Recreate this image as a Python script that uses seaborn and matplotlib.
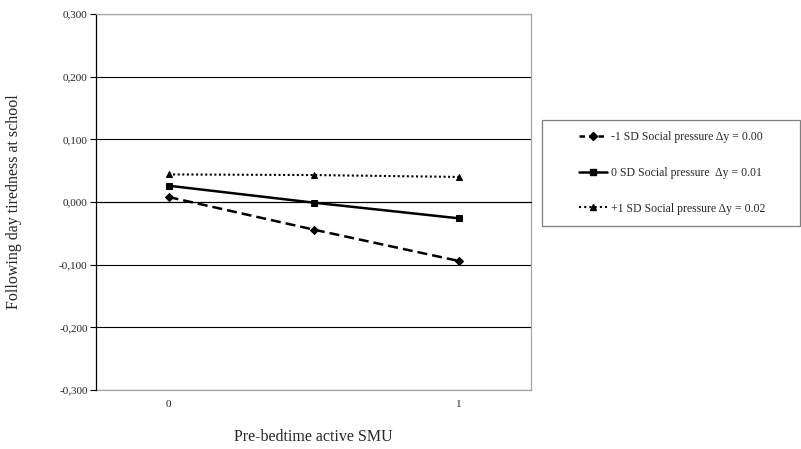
import pandas as pd
import numpy as np
import matplotlib.pyplot as plt
import seaborn as sns
from matplotlib.patches import Rectangle
from matplotlib.lines import Line2D

sns.set_style('white')
plt.rcParams['font.family'] = ['Liberation Serif', 'DejaVu Serif']

# dữ liệu
smu = [0, 0.5, 1]
minus_sd = [0.008, -0.044, -0.094]
zero_sd = [0.026, -0.001, -0.026]
plus_sd = [0.044, 0.043, 0.040]
labels = ['-1 SD Social pressure \u0394y = 0.00',
          '0 SD Social pressure  \u0394y = 0.01',
          '+1 SD Social pressure \u0394y = 0.02']
y_ticks = [-0.3, -0.2, -0.1, 0.0, 0.1, 0.2, 0.3]

df = pd.DataFrame({
    'smu': smu * 3,
    'tired': minus_sd + zero_sd + plus_sd,
    'group': np.repeat(labels, 3),
})

fig = plt.figure(figsize=(8.01, 4.49), dpi=100)
ax = fig.add_axes([96 / 801, 1 - 390 / 449, 435 / 801, 376 / 449])

sns.lineplot(data=df, x='smu', y='tired', style='group', color='black',
             markers={labels[0]: 'D', labels[1]: 's', labels[2]: '^'},
             dashes={labels[0]: (4, 2), labels[1]: '', labels[2]: (1, 1.2)},
             markersize=5, markeredgecolor='black', linewidth=1.8,
             ax=ax, legend=False)
for ln in ax.lines:
    if ln.get_marker() == 'D':
        ln.set_markersize(4)
    if ln.get_marker() == '^':
        ln.set_linewidth(1.5)

# mẫu chú thích: nét đứt ngắn hơn để thấy rõ khoảng trống
handles = [
    Line2D([], [], color='black', linewidth=1.8, dashes=(2.2, 1.6), marker='D', markersize=4),
    Line2D([], [], color='black', linewidth=1.8, marker='s', markersize=5),
    Line2D([], [], color='black', linewidth=1.5, dashes=(1, 1.5), marker='^', markersize=5),
]

ax.set_xlim(-0.25, 1.25)
ax.set_ylim(-0.3, 0.3)
ax.set_yticks(y_ticks)
ax.set_yticklabels([f'{v:.3f}'.replace('.', ',') for v in y_ticks], fontsize=8)
ax.yaxis.grid(True, color='black', linewidth=0.8)
ax.set_axisbelow(True)

# trục x cắt tại y = 0
ax.spines['bottom'].set_position(('data', 0))
ax.spines['bottom'].set_color('black')
ax.spines['bottom'].set_linewidth(0.8)
ax.set_xticks([0.25, 0.75])
ax.set_xticklabels([])
ax.tick_params(axis='x', direction='out', length=4, width=0.8, color='black')
ax.tick_params(axis='y', direction='out', length=4, width=0.8, color='black', pad=2, left=True)
ax.spines['left'].set_color('black')
ax.spines['left'].set_linewidth(0.9)
for s in ['top', 'right']:
    ax.spines[s].set_color('#a6a6a6')
    ax.spines[s].set_linewidth(0.9)

sec = ax.secondary_xaxis('bottom')
sec.set_xticks([0, 1])
sec.set_xticklabels(['0', '1'], fontsize=8)
sec.tick_params(length=0, pad=7)
sec.spines['bottom'].set_color('#a6a6a6')
sec.spines['bottom'].set_linewidth(0.9)

ax.set_xlabel('')
ax.set_ylabel('')
fig.text(313 / 801, 1 - 437 / 449, 'Pre-bedtime active SMU', fontsize=11.5,
         ha='center', va='center')
fig.text(14 / 801, 1 - 202 / 449, 'Following day tiredness at school', fontsize=11.5,
         ha='center', va='center', rotation=90)

# khung chú thích
fig.patches.append(Rectangle((542 / 801, 1 - 226 / 449), 258 / 801, 106 / 449,
                             transform=fig.transFigure, fill=False,
                             edgecolor='#7f7f7f', linewidth=0.9))
fig.legend(handles, labels, loc='center', bbox_to_anchor=(672 / 801, 1 - 173 / 449),
           frameon=False, fontsize=8.5, labelspacing=2.0, handlelength=2.4,
           handletextpad=0.3)

fig.savefig('out.png', dpi=100)
